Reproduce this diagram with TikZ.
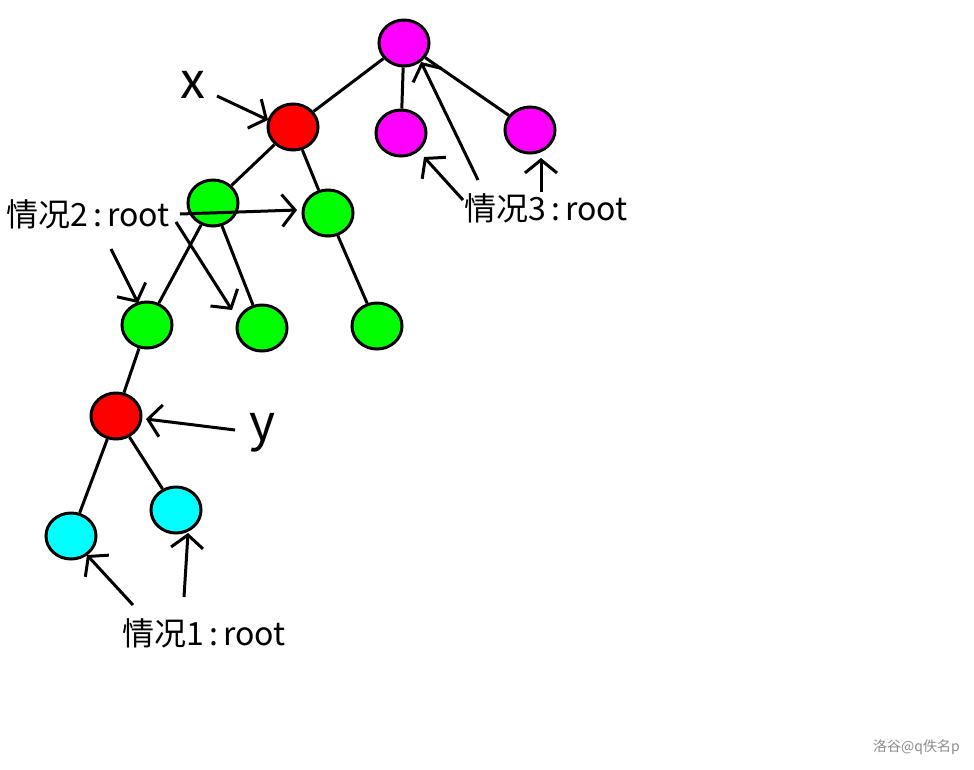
\documentclass[tikz,border=0pt]{standalone}
\usepackage{fontspec}
\setmainfont{Noto Sans CJK SC}
\usetikzlibrary{shapes.geometric,arrows.meta}
\definecolor{mag}{RGB}{255,0,255}
\definecolor{rd}{RGB}{255,0,0}
\definecolor{grn}{RGB}{0,255,0}
\definecolor{cyn}{RGB}{0,255,255}
\begin{document}
\begin{tikzpicture}[x=1pt,y=-1pt,
  tn/.style={ellipse,draw=black,line width=3pt,minimum width=50pt,minimum height=46pt,inner sep=0pt},
  edge/.style={line width=3pt},
  arr/.style={line width=3pt,-{Straight Barb[length=13pt,width=32pt,line width=3pt]}},
  lab/.style={inner sep=0pt,font=\fontsize{32}{32}\selectfont},
  big/.style={inner sep=0pt,font=\fontsize{50}{50}\selectfont}]
\useasboundingbox (0,0) rectangle (974,769);
\fill[white] (0,0) rectangle (974,769);
% nodes
\node[tn,fill=mag] (r) at (404,43) {};
\node[tn,fill=mag] (ml) at (401,133) {};
\node[tn,fill=mag] (mr) at (530,130) {};
\node[tn,fill=rd] (x) at (293,127) {};
\node[tn,fill=grn] (ga) at (213,203) {};
\node[tn,fill=grn] (gb) at (328,213) {};
\node[tn,fill=grn] (gc) at (147,325) {};
\node[tn,fill=grn] (gd) at (262,328) {};
\node[tn,fill=grn] (ge) at (377,326) {};
\node[tn,fill=rd] (y) at (116,416) {};
\node[tn,fill=cyn] (cf) at (71,536) {};
\node[tn,fill=cyn] (cg) at (176,510) {};
% edges
\draw[edge] (r) -- (x);
\draw[edge] (r) -- (ml);
\draw[edge] (r) -- (mr);
\draw[edge] (x) -- (ga);
\draw[edge] (x) -- (gb);
\draw[edge] (ga) -- (gc);
\draw[edge] (ga) -- (gd);
\draw[edge] (gb) -- (ge);
\draw[edge] (gc) -- (y);
\draw[edge] (y) -- (cf);
\draw[edge] (y) -- (cg);
% labels
\node[big,anchor=base] (lx) at (193,98) {x};
\node[big,anchor=base] (ly) at (263,440) {y};
\node[lab,anchor=base] (l2) at (88,226) {情况2\,:\,root};
\node[lab,anchor=base] (l3) at (546,220) {情况3\,:\,root};
\node[lab,anchor=base] (l1) at (204,645) {情况1\,:\,root};
\node[inner sep=0pt,anchor=base east,text=black!45,font=\fontsize{14}{14}\selectfont] (wm) at (960,751) {洛谷@q佚名p};
% arrow coordinates
\coordinate (ax1) at (217,96);   \coordinate (ax2) at (268,120);
\coordinate (ay1) at (235,430);  \coordinate (ay2) at (146,419);
\coordinate (a21) at (180,214);  \coordinate (a22) at (297,210);
\coordinate (a31) at (111,249);  \coordinate (a32) at (138,303);
\coordinate (a41) at (176,222);  \coordinate (a42) at (232,310);
\coordinate (b11) at (463,200);  \coordinate (b12) at (424,157);
\coordinate (b21) at (478,180);  \coordinate (b22) at (421,62);
\coordinate (b31) at (541,192);  \coordinate (b32) at (541,158);
\coordinate (c11) at (133,605);  \coordinate (c12) at (87,555);
\coordinate (c21) at (184,597);  \coordinate (c22) at (188,533);
\draw[arr] (ax1) -- (ax2);
\draw[arr] (ay1) -- (ay2);
\draw[arr] (a21) -- (a22);
\draw[arr] (a31) -- (a32);
\draw[arr] (a41) -- (a42);
\draw[arr] (b11) -- (b12);
\draw[arr] (b21) -- (b22);
\draw[arr] (b31) -- (b32);
\draw[arr] (c11) -- (c12);
\draw[arr] (c21) -- (c22);
\end{tikzpicture}
\end{document}
